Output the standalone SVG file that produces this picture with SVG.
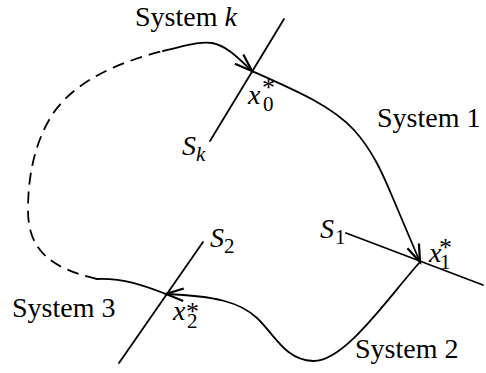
<svg xmlns="http://www.w3.org/2000/svg" width="486" height="373" viewBox="0 0 486 373">
<style>
  .ln { stroke: #000; stroke-width: 1.8; fill: none; stroke-linecap: round; }
  .dash { stroke-dasharray: 12 7; stroke-linecap: butt; }
  .t { font-family: "Liberation Serif", "DejaVu Serif", serif; fill: #000; }
  .lbl { font-size: 28px; }
  .it { font-style: italic; font-size: 28px; }
  .sub { font-style: normal; font-size: 21px; }
  .subi { font-style: italic; font-size: 21px; }
  .ast { font-style: normal; font-size: 26px; }
</style>
<defs>
  <marker id="arr" markerUnits="userSpaceOnUse" markerWidth="30" markerHeight="20" refX="0" refY="0" viewBox="-16 -8 18 16" orient="auto">
    <path d="M-14,-5 L0,0 L-14,5" fill="none" stroke="#000" stroke-width="1.8"/>
  </marker>
</defs>
<rect width="486" height="373" fill="#fff"/>

<g id="section-k">
  <line class="ln" x1="284" y1="19" x2="210" y2="141"/>
  <text x="182" y="155" class="t it" font-family="Liberation Serif, serif">S<tspan class="subi" x="196" y="161">k</tspan></text>
</g>
<g id="section-1">
  <line class="ln" x1="346" y1="233" x2="483" y2="285"/>
  <text x="320" y="238" class="t it" font-family="Liberation Serif, serif">S<tspan class="sub" x="335" y="244">1</tspan></text>
</g>
<g id="section-2">
  <line class="ln" x1="203" y1="242" x2="119" y2="363"/>
  <text x="210" y="247" class="t it" font-family="Liberation Serif, serif">S<tspan class="sub" x="224" y="253">2</tspan></text>
</g>

<g id="point-x0">
  <text x="248" y="104" class="t it" font-family="Liberation Serif, serif">x<tspan class="sub" x="263" y="111">0</tspan><tspan class="ast" x="262" y="96">*</tspan></text>
</g>
<g id="point-x1">
  <text x="429" y="262" class="t it" font-family="Liberation Serif, serif">x<tspan class="sub" x="440" y="269">1</tspan><tspan class="ast" x="439" y="256">*</tspan></text>
</g>
<g id="point-x2">
  <text x="173" y="320" class="t it" font-family="Liberation Serif, serif">x<tspan class="sub" x="187" y="328">2</tspan><tspan class="ast" x="186" y="320">*</tspan></text>
</g>

<g id="connectors">
  <path id="system-1" class="ln" d="M252,71 C295,90 332,106 354,130 C372,150 382,172 392,196 L420,262" marker-end="url(#arr)"/>
  <path id="system-2" class="ln" d="M420,262 C390,295 345,362 313,361 C285,360 275,335 257,318 C240,302 215,296 166,294" marker-end="url(#arr)"/>
  <path id="system-3" class="ln" d="M166,294 C145,286 125,278 97,279"/>
  <path id="dashed" class="ln dash" d="M97,279 C50,268 28,250 28,210 C28,175 35,142 52,115 C75,80 120,62 163,51"/>
  <path id="system-k" class="ln" d="M163,51 C185,46 200,41 212,43 C228,46 240,60 252,71" marker-end="url(#arr)"/>
</g>

<g id="labels">
  <text x="135" y="26" class="t lbl" font-family="Liberation Serif, serif">System <tspan font-style="italic">k</tspan></text>
  <text x="377" y="127" class="t lbl" font-family="Liberation Serif, serif">System 1</text>
  <text x="355" y="358" class="t lbl" font-family="Liberation Serif, serif">System 2</text>
  <text x="12" y="317" class="t lbl" font-family="Liberation Serif, serif">System 3</text>
</g>
</svg>
